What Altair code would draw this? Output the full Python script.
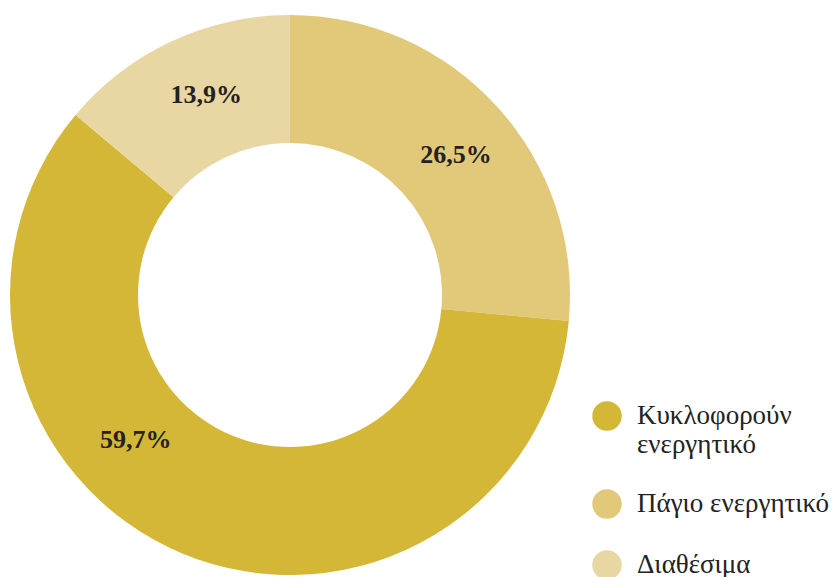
import altair as alt
import pandas as pd

categories = ["Πάγιο ενεργητικό", "Κυκλοφορούν ενεργητικό", "Διαθέσιμα"]
values = [26.5, 59.7, 13.9]
pct_labels = ["26,5%", "59,7%", "13,9%"]
legend_order = ["Κυκλοφορούν ενεργητικό", "Πάγιο ενεργητικό", "Διαθέσιμα"]
colors = ["#D5B737", "#E2C97A", "#E8D6A3"]

df = pd.DataFrame({
    "cat": categories,
    "value": values,
    "pct": pct_labels,
    "ord": list(range(len(categories))),
})

CX, CY = 282, 287

base = alt.Chart(df).encode(
    theta=alt.Theta("value:Q", stack=True),
    order=alt.Order("ord:Q"),
    x=alt.value(CX),
    y=alt.value(CY),
)

arcs = base.mark_arc(outerRadius=280, innerRadius=152, stroke=None).encode(
    color=alt.Color(
        "cat:N",
        scale=alt.Scale(domain=legend_order, range=colors),
        legend=alt.Legend(
            title=None,
            orient="none",
            legendX=584,
            legendY=393,
            padding=0,
            symbolType="circle",
            symbolSize=870,
            symbolStrokeWidth=0,
            labelFont="Liberation Serif",
            labelFontSize=27,
            labelColor="#222222",
            labelOffset=15,
            labelLimit=400,
            rowPadding=31,
            labelExpr="datum.label == 'Κυκλοφορούν ενεργητικό' ? ['Κυκλοφορούν', 'ενεργητικό'] : datum.label",
        ),
    )
)

txt_main = base.mark_text(
    radius=217, thetaOffset=0.04, font="Liberation Serif", fontSize=26, fontWeight="bold", color="#222222"
).encode(
    text=alt.condition(alt.datum.cat != "Κυκλοφορούν ενεργητικό", alt.Text("pct:N"), alt.value(""))
)

txt_big = base.mark_text(
    radius=212, thetaOffset=0.42, font="Liberation Serif", fontSize=26, fontWeight="bold", color="#222222"
).encode(
    text=alt.condition(alt.datum.cat == "Κυκλοφορούν ενεργητικό", alt.Text("pct:N"), alt.value(""))
)

chart = alt.layer(arcs, txt_main, txt_big).properties(
    width=823, height=569, padding=0, autosize=alt.AutoSizeParams(type="none")
).configure_view(stroke=None)

chart.save("out.html", embed_options={"renderer": "svg", "actions": False})
